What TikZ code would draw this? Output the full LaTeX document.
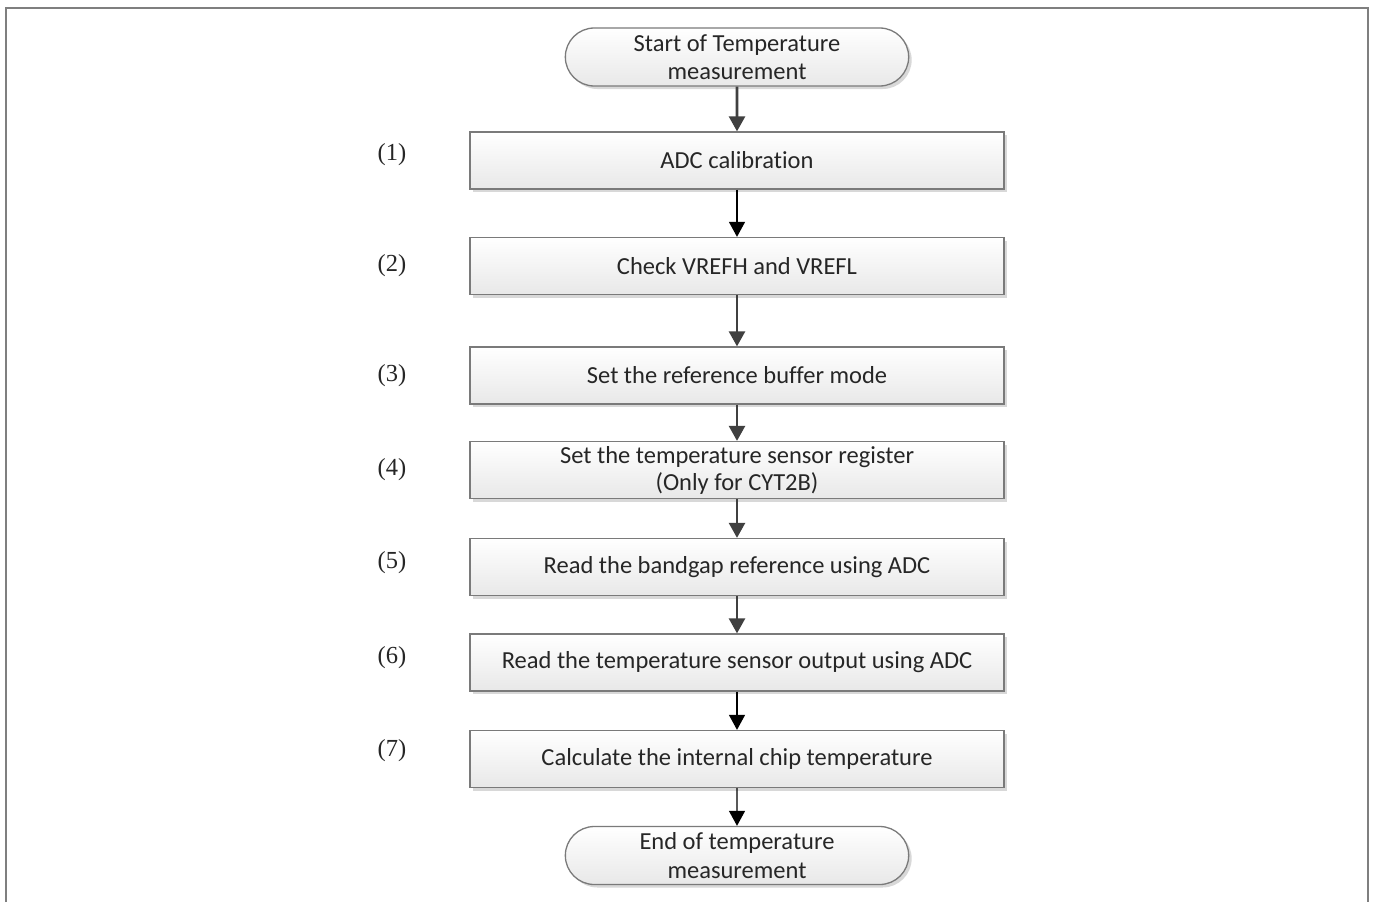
\documentclass[tikz,border=0pt]{standalone}
\usepackage{fontspec}
\setmainfont[Ligatures=NoCommon]{Carlito}
\newfontfamily\numfont{Liberation Serif}
\usetikzlibrary{arrows.meta,shadows,shapes.misc}
\definecolor{framegray}{HTML}{7F7F7F}
\definecolor{boxborder}{HTML}{7A7A7A}
\definecolor{arrowgray}{HTML}{404040}
\tikzset{
  stepbox/.style={rectangle, draw=boxborder, line width=1.3pt,
    top color=white, bottom color=black!9,
    minimum width=534pt, minimum height=57pt, align=center,
    font=\fontsize{24.5}{27}\selectfont, text=black!85,
    drop shadow={shadow xshift=3pt, shadow yshift=-3pt, fill=black!25, opacity=0.6}},
  termbox/.style={rounded rectangle, draw=boxborder, line width=1.3pt,
    top color=white, bottom color=black!9,
    minimum width=350pt, minimum height=58pt, inner ysep=0pt, align=center,
    font=\fontsize{24.5}{28.5}\selectfont, text=black!85,
    drop shadow={shadow xshift=3pt, shadow yshift=-3pt, fill=black!25, opacity=0.6}},
  steplabel/.style={font=\numfont\fontsize{24.5}{28}\selectfont, text=black!85},
  flowthick/.style={draw=arrowgray, line width=2.6pt,
    -{Triangle[width=16pt,length=15pt]}},
  flowthin/.style={draw=black, line width=1.3pt,
    -{Triangle[width=16pt,length=15pt]}},
}
\begin{document}
\begin{tikzpicture}[x=1pt,y=-1pt]
\useasboundingbox (0,0) rectangle (1373,902);
\fill[white] (0,0) rectangle (1373,902);
% outer frame, open at the bottom
\draw[framegray, line width=2pt] (6,902) -- (6,8) -- (1368,8) -- (1368,902);

\node[termbox] (start) at (737,57) {Start of Temperature\\measurement};
\node[stepbox] (s1) at (737,160.5) {ADC calibration};
\node[stepbox] (s2) at (737,266) {Check VREFH and VREFL};
\node[stepbox] (s3) at (737,375.5) {Set the reference buffer mode};
\node[stepbox] (s4) at (737,470) {Set the temperature sensor register\\(Only for CYT2B)};
\node[stepbox] (s5) at (737,567) {Read the bandgap reference using ADC};
\node[stepbox] (s6) at (737,662.5) {Read the temperature sensor output using ADC};
\node[stepbox] (s7) at (737,759) {Calculate the internal chip temperature};
\node[termbox] (end) at (737,855.5) {End of temperature\\measurement};

\node[steplabel] (l1) at (392,155) {(1)};
\node[steplabel] (l2) at (392,266) {(2)};
\node[steplabel] (l3) at (392,376) {(3)};
\node[steplabel] (l4) at (392,470) {(4)};
\node[steplabel] (l5) at (392,563) {(5)};
\node[steplabel] (l6) at (392,658) {(6)};
\node[steplabel] (l7) at (392,751) {(7)};

\draw[flowthick] (start) -- (s1);
\draw[flowthin] (s1) -- (s2);
\draw[flowthick] (s2) -- (s3);
\draw[flowthick] (s3) -- (s4);
\draw[flowthick] (s4) -- (s5);
\draw[flowthick] (s5) -- (s6);
\draw[flowthin] (s6) -- (s7);
\draw[flowthin] (s7) -- (end);
\end{tikzpicture}
\end{document}
